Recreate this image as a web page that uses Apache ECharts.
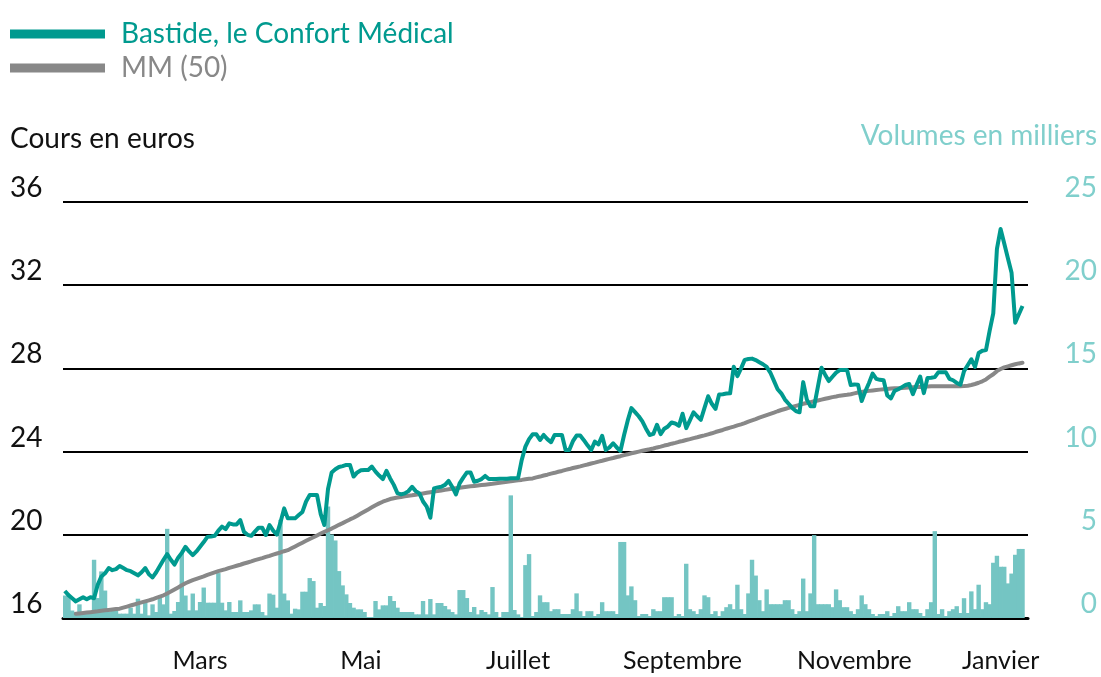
<!DOCTYPE html>
<html>
<head>
<meta charset="utf-8">
<script src="https://cdn.jsdelivr.net/npm/echarts@6/dist/echarts.min.js"></script>
<style>
  html, body { margin: 0; padding: 0; background: #fff; }
  #chart { width: 1101px; height: 677px; }
</style>
</head>
<body>
<div id="chart"></div>
<script>
// one slot per trading day, a few empty ones at the end of the axis
var dayCount = 264;
var days = Array.from({ length: dayCount }, function (_, i) { return i; });

var monthLabels = ['Mars', 'Mai', 'Juillet', 'Septembre', 'Novembre', 'Janvier'];
var monthIndex = [37, 81, 124, 169, 216, 256];

var priceTicks = [16, 20, 24, 28, 32, 36];
var volumeTicks = [0, 5, 10, 15, 20, 25];

// cours de clôture (euros)
var price = [
  17.3, 17.1, 16.95, 16.8, 16.9, 17.0, 16.9, 17.0, 16.95, 17.6,
  18.0, 18.15, 18.4, 18.3, 18.35, 18.5, 18.4, 18.3, 18.25, 18.15,
  18.05, 18.2, 18.4, 18.1, 17.95, 18.2, 18.5, 18.8, 19.07, 18.8,
  18.57, 18.9, 19.13, 19.42, 19.2, 19.02, 19.2, 19.42, 19.65, 19.9,
  19.92, 19.95, 20.2, 20.39, 20.27, 20.55, 20.5, 20.5, 20.71, 20.14,
  20.0, 19.95, 20.15, 20.34, 20.34, 19.99, 20.47, 20.2, 20.01, 20.6,
  21.27, 20.79, 20.79, 20.79, 20.95, 21.1, 21.6, 21.91, 21.91, 21.91,
  21.0, 20.47, 22.2, 23.0, 23.15, 23.26, 23.3, 23.36, 23.36, 22.8,
  23.0, 23.1, 23.12, 23.12, 23.28, 23.04, 22.85, 22.68, 23.07, 22.71,
  22.4, 22.0, 21.94, 21.99, 22.1, 22.31, 22.1, 21.99, 21.6, 21.35,
  20.82, 22.23, 22.28, 22.31, 22.4, 22.59, 22.3, 21.94, 22.47, 22.75,
  23.0, 23.0, 22.55, 22.6, 22.68, 22.83, 22.68, 22.68, 22.68, 22.7,
  22.7, 22.7, 22.72, 22.72, 22.72, 23.6, 24.24, 24.6, 24.83, 24.83,
  24.56, 24.8, 24.6, 24.45, 24.8, 24.8, 24.8, 24.08, 24.08, 24.5,
  24.77, 24.77, 24.55, 24.3, 24.08, 24.48, 24.35, 24.76, 24.08, 24.2,
  24.4, 24.2, 24.03, 24.8, 25.5, 26.09, 25.9, 25.7, 25.45, 25.1,
  24.8, 24.85, 25.29, 24.84, 25.1, 25.21, 25.4, 25.35, 25.24, 25.82,
  25.13, 25.5, 25.89, 25.7, 25.53, 26.1, 26.66, 26.3, 26.05, 26.74,
  26.76, 26.79, 26.8, 28.08, 27.63, 28.0, 28.41, 28.45, 28.47, 28.4,
  28.3, 28.2, 28.07, 27.8, 27.4, 27.0, 26.8, 26.5, 26.3, 26.1,
  25.95, 25.89, 27.34, 26.5, 26.18, 26.18, 27.1, 28.03, 27.7, 27.39,
  27.6, 27.8, 27.92, 27.92, 27.92, 27.2, 27.23, 27.22, 26.43, 26.9,
  27.3, 27.75, 27.5, 27.45, 27.43, 26.7, 26.56, 26.92, 27.0, 27.1,
  27.2, 27.25, 26.76, 27.2, 27.61, 26.81, 27.54, 27.55, 27.58, 27.82,
  27.82, 27.82, 27.5, 27.43, 27.3, 27.22, 27.87, 28.15, 28.44, 28.07,
  28.74, 28.85, 28.88, 29.8, 30.65, 33.75, 34.7, 34.0, 33.3, 32.6,
  30.2, 30.6, 31.0
];

// moyenne mobile 50 séances
var mm50 = [
  null, null, null, 16.2, 16.22, 16.24, 16.26, 16.28, 16.3, 16.32,
  16.35, 16.37, 16.39, 16.41, 16.43, 16.45, 16.5, 16.55, 16.6, 16.65,
  16.7, 16.75, 16.8, 16.85, 16.9, 16.97, 17.03, 17.09, 17.18, 17.27,
  17.37, 17.47, 17.57, 17.67, 17.75, 17.82, 17.88, 17.94, 18.0, 18.07,
  18.13, 18.19, 18.25, 18.3, 18.35, 18.41, 18.46, 18.51, 18.56, 18.62,
  18.67, 18.72, 18.78, 18.83, 18.88, 18.94, 18.99, 19.05, 19.1, 19.15,
  19.21, 19.26, 19.35, 19.44, 19.53, 19.62, 19.71, 19.8, 19.88, 19.97,
  20.06, 20.14, 20.22, 20.3, 20.39, 20.48, 20.56, 20.65, 20.74, 20.82,
  20.92, 21.02, 21.12, 21.22, 21.32, 21.42, 21.51, 21.59, 21.65, 21.72,
  21.76, 21.79, 21.82, 21.85, 21.88, 21.9, 21.93, 21.96, 21.99, 22.02,
  22.05, 22.08, 22.1, 22.13, 22.16, 22.19, 22.21, 22.24, 22.26, 22.29,
  22.31, 22.33, 22.35, 22.37, 22.39, 22.41, 22.43, 22.45, 22.48, 22.5,
  22.52, 22.55, 22.57, 22.6, 22.62, 22.64, 22.67, 22.69, 22.71, 22.76,
  22.8, 22.85, 22.89, 22.94, 22.98, 23.03, 23.07, 23.12, 23.16, 23.21,
  23.25, 23.29, 23.34, 23.38, 23.43, 23.47, 23.52, 23.56, 23.61, 23.65,
  23.69, 23.74, 23.78, 23.83, 23.87, 23.92, 23.96, 24.0, 24.04, 24.08,
  24.11, 24.15, 24.2, 24.24, 24.29, 24.33, 24.38, 24.42, 24.47, 24.51,
  24.56, 24.6, 24.65, 24.69, 24.74, 24.78, 24.83, 24.88, 24.94, 24.99,
  25.04, 25.1, 25.15, 25.2, 25.26, 25.31, 25.37, 25.44, 25.5, 25.56,
  25.63, 25.69, 25.75, 25.81, 25.87, 25.94, 26.0, 26.05, 26.1, 26.15,
  26.2, 26.25, 26.3, 26.34, 26.38, 26.42, 26.46, 26.5, 26.54, 26.58,
  26.62, 26.65, 26.69, 26.71, 26.73, 26.76, 26.8, 26.84, 26.87, 26.9,
  26.92, 26.94, 26.96, 26.98, 27.0, 27.01, 27.03, 27.04, 27.05, 27.06,
  27.07, 27.08, 27.09, 27.1, 27.11, 27.12, 27.13, 27.14, 27.14, 27.14,
  27.14, 27.14, 27.14, 27.14, 27.14, 27.14, 27.15, 27.17, 27.2, 27.25,
  27.31, 27.38, 27.47, 27.6, 27.72, 27.87, 27.97, 28.05, 28.1, 28.15,
  28.2, 28.24, 28.27
];

// volumes échangés (milliers de titres)
var volume = [
  1.35, 1.35, 0.45, 0.35, 0.82, 0.3, 0.3, 0.35, 3.5, 1.2,
  2.8, 1.65, 0.36, 0.46, 0.46, 0.26, 0.26, 0.26, 0.62, 0.26,
  1.16, 0.26, 0.96, 0.16, 0.82, 0.36, 1.25, 0.82, 5.36, 0.26,
  0.42, 0.96, 3.9, 1.35, 0.46, 1.47, 0.46, 0.96, 1.83, 0.92,
  0.92, 0.92, 2.7, 0.92, 0.46, 0.96, 0.36, 0.36, 1.06, 0.36,
  0.36, 0.46, 0.82, 0.82, 0.36, 0.16, 1.47, 1.4, 0.62, 5.9,
  1.47, 1.06, 0.26, 0.56, 0.52, 1.58, 1.58, 2.4, 2.22, 0.62,
  0.9, 0.72, 6.7, 5.02, 4.66, 2.82, 1.96, 1.42, 0.9, 0.62,
  0.52, 0.52, 0.36, 0.06, 0.06, 1.02, 0.52, 0.76, 0.76, 1.32,
  1.02, 0.62, 0.36, 0.36, 0.36, 0.36, 0.22, 0.22, 1.02, 0.22,
  1.14, 0.22, 0.9, 0.9, 0.72, 0.52, 0.36, 0.22, 1.68, 1.68,
  1.2, 0.36, 0.66, 0.22, 0.48, 0.36, 0.22, 1.86, 0.36, 0.06,
  0.36, 0.36, 7.37, 0.48, 0.22, 0.06, 3.18, 3.84, 0.12, 0.36,
  1.36, 0.95, 0.95, 0.41, 0.53, 0.53, 0.24, 0.24, 0.24, 0.53,
  1.48, 0.41, 0.12, 0.41, 0.41, 0.12, 0.24, 0.95, 0.41, 0.41,
  0.41, 0.24, 4.57, 4.57, 1.36, 1.9, 1.07, 0.12, 0.24, 0.24,
  0.12, 0.53, 0.41, 0.41, 1.25, 1.25, 1.25, 0.12, 0.24, 0.12,
  3.26, 0.53, 0.41, 0.24, 0.53, 1.36, 1.25, 0.24, 0.41, 0.12,
  0.41, 0.65, 0.83, 0.53, 2.0, 0.53, 0.24, 1.48, 3.5, 2.55,
  1.07, 0.41, 1.72, 0.83, 0.83, 0.83, 0.83, 1.07, 1.07, 0.53,
  0.24, 0.41, 2.37, 0.41, 1.48, 4.98, 0.83, 0.83, 0.83, 0.83,
  0.65, 1.72, 1.07, 0.65, 0.65, 0.41, 0.24, 0.53, 1.36, 0.83,
  0.53, 0.24, 0.12, 0.24, 0.24, 0.41, 0.12, 0.3, 0.71, 0.41,
  0.41, 0.95, 0.53, 0.53, 0.3, 0.12, 0.53, 0.95, 5.22, 0.24,
  0.53, 0.12, 0.41, 0.53, 0.71, 0.3, 1.19, 0.3, 1.6, 0.53,
  2.0, 0.53, 0.95, 0.83, 3.32, 3.74, 3.08, 3.08, 2.08, 2.67,
  3.8, 4.15, 4.15
];

var font = 'Lato, "Noto Sans", sans-serif';
var teal = '#009a8f';
var lightTeal = '#74c5c3';
var grey = '#888888';

var chart = echarts.init(document.getElementById('chart'));
chart.setOption({
  animation: false,
  backgroundColor: '#fff',
  textStyle: { fontFamily: font },
  grid: { left: 63, right: 73, top: 202, bottom: 59 },
  legend: {
    orient: 'vertical',
    left: 10,
    top: 20,
    padding: 0,
    icon: 'rect',
    itemWidth: 95,
    itemHeight: 9,
    itemGap: 6,
    selectedMode: false,
    textStyle: { fontSize: 28, fontFamily: font, padding: [0, 0, 0, 11] },
    data: [
      { name: 'Bastide, le Confort Médical', textStyle: { color: teal } },
      { name: 'MM (50)', textStyle: { color: grey } }
    ]
  },
  graphic: [
    {
      type: 'text', left: 10, top: 125,
      style: { text: 'Cours en euros', fontSize: 28, fontFamily: font, fill: '#111' }
    },
    {
      type: 'text', right: 4, top: 122,
      style: { text: 'Volumes en milliers', fontSize: 28, fontFamily: font, fill: '#80cfcc' }
    }
  ],
  xAxis: {
    type: 'category',
    data: days,
    boundaryGap: true,
    axisLine: { lineStyle: { color: '#000', width: 3 } },
    axisTick: {
      alignWithLabel: true,
      length: 10,
      interval: function (index) { return monthIndex.indexOf(index) >= 0; },
      lineStyle: { color: '#000', width: 3 }
    },
    axisLabel: {
      interval: function (index) { return monthIndex.indexOf(index) >= 0; },
      formatter: function (value, index) {
        var k = monthIndex.indexOf(Number(value));
        return k >= 0 ? monthLabels[k] : '';
      },
      margin: 30,
      fontSize: 25,
      color: '#111',
      fontFamily: font
    },
    splitLine: { show: false }
  },
  yAxis: [
    {
      type: 'value',
      min: priceTicks[0],
      max: priceTicks[priceTicks.length - 1],
      interval: 4,
      position: 'left',
      axisLine: { show: false },
      axisTick: { show: false },
      axisLabel: {
        align: 'left',
        verticalAlign: 'bottom',
        margin: 53,
        fontSize: 28,
        color: '#111',
        fontFamily: font
      },
      splitLine: { lineStyle: { color: '#000', width: 2 } }
    },
    {
      type: 'value',
      min: volumeTicks[0],
      max: volumeTicks[volumeTicks.length - 1],
      interval: 5,
      position: 'right',
      axisLine: { show: false },
      axisTick: { show: false },
      axisLabel: {
        align: 'right',
        verticalAlign: 'bottom',
        margin: 69,
        fontSize: 28,
        color: '#80cfcc',
        fontFamily: font
      },
      splitLine: { show: false }
    }
  ],
  series: [
    {
      name: 'Volumes',
      type: 'bar',
      yAxisIndex: 1,
      data: volume,
      barWidth: 4.4,
      itemStyle: { color: lightTeal },
      silent: true
    },
    {
      name: 'MM (50)',
      type: 'line',
      data: mm50,
      showSymbol: false,
      lineStyle: { color: grey, width: 4, cap: 'round' },
      itemStyle: { color: grey },
      silent: true
    },
    {
      name: 'Bastide, le Confort Médical',
      type: 'line',
      data: price,
      showSymbol: false,
      lineStyle: { color: teal, width: 4, join: 'round' },
      itemStyle: { color: teal },
      silent: true
    }
  ]
});
</script>
</body>
</html>
